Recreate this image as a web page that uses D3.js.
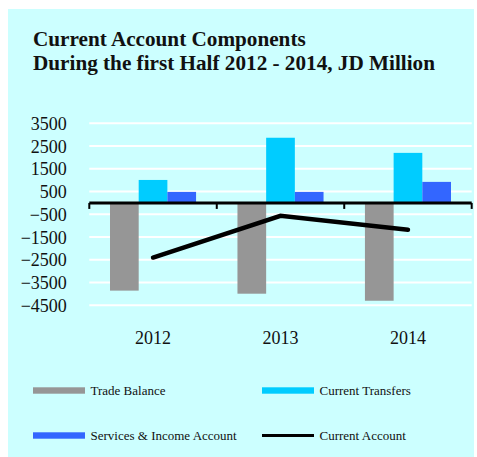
<!DOCTYPE html>
<html>
<head>
<meta charset="utf-8">
<script src="https://cdn.jsdelivr.net/npm/d3@7"></script>
<style>
  html, body { margin: 0; padding: 0; background: #ffffff; }
  svg { display: block; }
  text { font-family: "Liberation Serif", "Times New Roman", serif; fill: #111; }
</style>
</head>
<body>
<svg id="chart" width="477" height="457"></svg>
<script>
// Data (JD Million, first half of each year)
const years = ["2012", "2013", "2014"];
const tradeBalance = [-3855, -3990, -4300];
const currentTransfers = [1010, 2865, 2200];
const servicesIncome = [485, 485, 925];
const currentAccount = [-2400, -565, -1180];
const yTickValues = [3500, 2500, 1500, 500, -500, -1500, -2500, -3500, -4500];

const barSeries = [
  { name: "Trade Balance", values: tradeBalance, color: "#969696" },
  { name: "Current Transfers", values: currentTransfers, color: "#00CCFF" },
  { name: "Services & Income Account", values: servicesIncome, color: "#3366FF" }
];

const svg = d3.select("#chart");

// panel background
svg.append("rect")
  .attr("x", 8).attr("y", 9)
  .attr("width", 466).attr("height", 448)
  .attr("fill", "#CCFFFF");

// title
const title = svg.append("text")
  .attr("x", 33)
  .attr("font-weight", "bold")
  .attr("font-size", 21.2);
title.append("tspan").attr("x", 33).attr("y", 46).text("Current Account Components");
title.append("tspan").attr("x", 33).attr("y", 70).text("During the first Half 2012 - 2014, JD Million");

// scales
const plotLeft = 89.3, plotRight = 471.7;
const x = d3.scaleBand().domain(years).range([plotLeft, plotRight]).padding(0);
const y = d3.scaleLinear().domain([-4500, 3500]).range([305.3, 123.3]);

const groupInset = 20.7;
const xs = d3.scaleBand()
  .domain(barSeries.map(s => s.name))
  .range([groupInset, x.bandwidth() - groupInset])
  .padding(0);

// gridlines
svg.append("g")
  .selectAll("line")
  .data(yTickValues)
  .join("line")
  .attr("x1", plotLeft).attr("x2", plotRight)
  .attr("y1", d => y(d)).attr("y2", d => y(d))
  .attr("stroke", "#ffffff")
  .attr("stroke-width", 2);

// y axis labels
const yAxis = svg.append("g")
  .attr("transform", `translate(${plotLeft - 22.5},0)`)
  .call(d3.axisLeft(y).tickValues(yTickValues).tickSize(0).tickPadding(0).tickFormat(d3.format("d")));
yAxis.select(".domain").remove();
yAxis.selectAll("text")
  .attr("font-size", 18)
  .attr("font-family", "'Liberation Serif', 'Times New Roman', serif")
  .attr("fill", "#111")
  .attr("dy", "0.34em");

// bars
const groups = svg.append("g")
  .selectAll("g")
  .data(years)
  .join("g")
  .attr("transform", d => `translate(${x(d)},0)`);

groups.selectAll("rect")
  .data((d, i) => barSeries.map(s => ({ name: s.name, color: s.color, value: s.values[i] })))
  .join("rect")
  .attr("x", d => xs(d.name))
  .attr("width", xs.bandwidth())
  .attr("y", d => y(Math.max(0, d.value)))
  .attr("height", d => Math.abs(y(d.value) - y(0)))
  .attr("fill", d => d.color);

// category axis at zero
const xAxis = svg.append("g")
  .attr("transform", `translate(0,${y(0)})`);
xAxis.append("line")
  .attr("x1", plotLeft).attr("x2", plotRight)
  .attr("stroke", "#000").attr("stroke-width", 3);
const boundaries = years.map(d => x(d)).concat([plotRight]);
xAxis.selectAll("line.tick")
  .data(boundaries)
  .join("line")
  .attr("class", "tick")
  .attr("x1", d => d).attr("x2", d => d)
  .attr("y1", 0).attr("y2", 6)
  .attr("stroke", "#000").attr("stroke-width", 2);

// category labels
svg.append("g")
  .selectAll("text")
  .data(years)
  .join("text")
  .attr("x", d => x(d) + x.bandwidth() / 2)
  .attr("y", 344)
  .attr("text-anchor", "middle")
  .attr("font-size", 18)
  .text(d => d);

// current account line
const line = d3.line()
  .x((d, i) => x(years[i]) + x.bandwidth() / 2)
  .y(d => y(d));
svg.append("path")
  .datum(currentAccount)
  .attr("d", line)
  .attr("fill", "none")
  .attr("stroke", "#000")
  .attr("stroke-width", 4.5)
  .attr("stroke-linecap", "round")
  .attr("stroke-linejoin", "miter");

// legend
const legendItems = [
  { name: "Trade Balance", color: "#969696", type: "bar", x: 33, y: 390.5 },
  { name: "Current Transfers", color: "#00CCFF", type: "bar", x: 262, y: 390.5 },
  { name: "Services & Income Account", color: "#3366FF", type: "bar", x: 33, y: 435.5 },
  { name: "Current Account", color: "#000000", type: "line", x: 262, y: 435.5 }
];
const legend = svg.append("g");
legendItems.forEach(item => {
  if (item.type === "bar") {
    legend.append("rect")
      .attr("x", item.x).attr("y", item.y - 3.2)
      .attr("width", 52).attr("height", 6.4)
      .attr("fill", item.color);
  } else {
    legend.append("line")
      .attr("x1", item.x).attr("x2", item.x + 52)
      .attr("y1", item.y).attr("y2", item.y)
      .attr("stroke", item.color).attr("stroke-width", 3);
  }
  legend.append("text")
    .attr("x", item.x + 57.5)
    .attr("y", item.y + 4.5)
    .attr("font-size", 13)
    .text(item.name);
});
</script>
</body>
</html>
